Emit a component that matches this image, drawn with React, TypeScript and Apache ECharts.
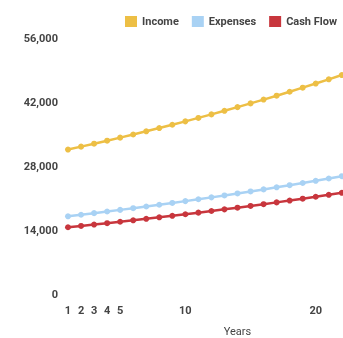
import React, { useEffect, useRef } from "react";
import * as echarts from "echarts";

const years = [1, 2, 3, 4, 5, 6, 7, 8, 9, 10, 11, 12, 13, 14, 15, 16, 17, 18, 19, 20, 21, 22];
const income = [31600, 32232, 32877, 33534, 34205, 34889, 35587, 36298, 37024, 37765, 38520, 39291, 40077, 40878, 41696, 42530, 43380, 44248, 45133, 46036, 46956, 47895];
const expenses = [17000, 17340, 17687, 18041, 18401, 18769, 19145, 19528, 19918, 20317, 20723, 21138, 21560, 21991, 22431, 22880, 23338, 23804, 24281, 24766, 25261, 25767];
const cashFlow = [14600, 14892, 15190, 15493, 15804, 16120, 16442, 16770, 17106, 17448, 17797, 18153, 18517, 18887, 19265, 19650, 20042, 20444, 20852, 21270, 21695, 22128];
const xTickLabels = [1, 2, 3, 4, 5, 10, 20];
const yTicks = [0, 14000, 28000, 42000, 56000];

const colors = { income: "#EDBF45", expenses: "#A9D2F4", cashFlow: "#C8363D" };

export default function App() {
  const ref = useRef<HTMLDivElement>(null);
  useEffect(() => {
    if (!ref.current) return;
    const chart = echarts.init(ref.current, undefined, { renderer: "svg" });
    const mk = (name: string, vals: number[], color: string) => ({
      name,
      type: "line",
      data: years.map((y, i) => [y, vals[i]]),
      symbol: "circle",
      symbolSize: 6,
      lineStyle: { width: 2.5, color },
      itemStyle: { color },
      color,
    });
    chart.setOption({
      animation: false,
      textStyle: { fontFamily: "Roboto" },
      legend: {
        right: 88,
        top: 11,
        itemWidth: 12,
        itemHeight: 11,
        itemGap: 13,
        icon: "rect",
        textStyle: { fontSize: 11, fontWeight: "bold", color: "#444", fontFamily: "Roboto" },
        data: ["Income", "Expenses", "Cash Flow"],
      },
      grid: { left: 68, right: 23, top: 38, bottom: 44, containLabel: false, outerBoundsMode: "none" },
      xAxis: {
        type: "value",
        min: 1,
        max: 27,
        interval: 1,
        name: "Years",
        nameLocation: "middle",
        nameGap: 32,
        nameTextStyle: { fontSize: 11, color: "#444", fontFamily: "Roboto" },
        axisLine: { show: false },
        axisTick: { show: false },
        splitLine: { show: false },
        axisLabel: {
          margin: 11,
          fontSize: 11,
          fontWeight: "bold",
          color: "#444",
          fontFamily: "Roboto",
          formatter: (v: number) => (xTickLabels.includes(v) ? String(v) : ""),
        },
      },
      yAxis: {
        type: "value",
        min: yTicks[0],
        max: yTicks[yTicks.length - 1],
        interval: yTicks[1] - yTicks[0],
        axisLine: { show: false },
        axisTick: { show: false },
        splitLine: { show: false },
        axisLabel: {
          margin: 10,
          fontSize: 11,
          fontWeight: "bold",
          color: "#444",
          fontFamily: "Roboto",
          formatter: (v: number) => v.toLocaleString("en-US"),
        },
      },
      series: [
        mk("Income", income, colors.income),
        mk("Expenses", expenses, colors.expenses),
        mk("Cash Flow", cashFlow, colors.cashFlow),
      ],
    });
    return () => chart.dispose();
  }, []);
  return (
    <div style={{ position: "fixed", left: 0, top: 0, width: 343, height: 338, overflow: "hidden" }}>
      <div ref={ref} style={{ width: 430, height: 338 }} />
    </div>
  );
}
